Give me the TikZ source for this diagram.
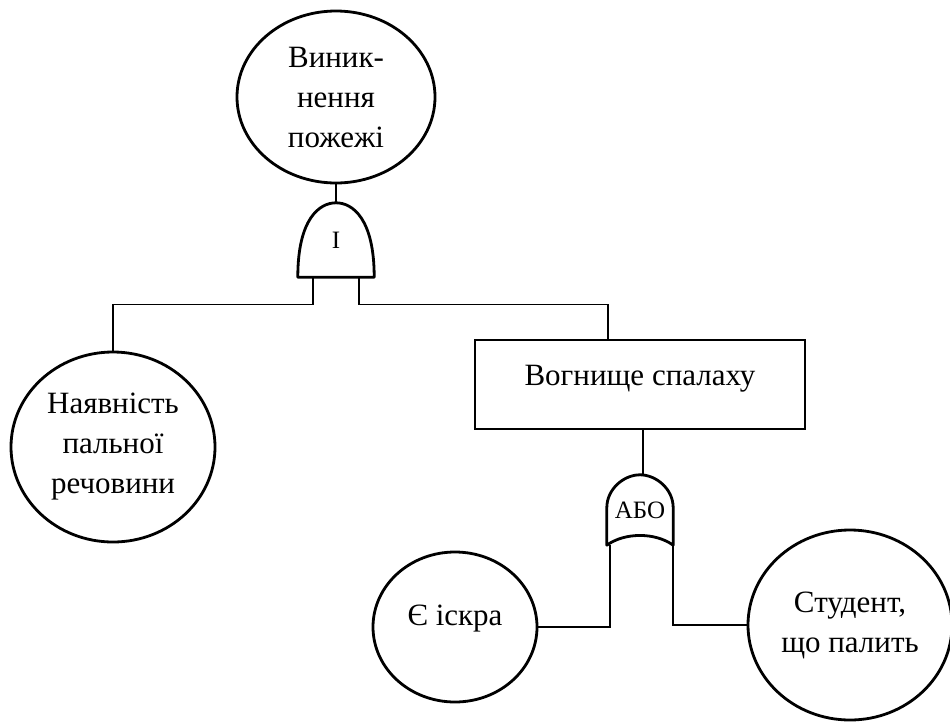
\documentclass[tikz,border=0pt]{standalone}
\usepackage{fontspec}
\setmainfont{LiberationSerif}[Extension=.ttf,UprightFont=*-Regular,BoldFont=*-Bold]
\usetikzlibrary{shapes.geometric}
\begin{document}
\begin{tikzpicture}[x=1pt,y=-1pt,
  evt/.style={ellipse,draw,line width=2.8pt,inner sep=0pt,align=center,
    font=\fontsize{31}{40}\selectfont},
  boxnode/.style={rectangle,draw,line width=2.8pt,inner sep=0pt,align=center,
    font=\fontsize{31}{40}\selectfont},
  gatenode/.style={rectangle,inner sep=0pt,font=\fontsize{25}{28}\selectfont},
  gateline/.style={line width=2.8pt,line join=round},
  conn/.style={line width=1.4pt}]
\useasboundingbox (0,0) rectangle (950,723);
% nodes
\node[evt,minimum width=198pt,minimum height=172pt] (top) at (336,97) {Виник-\\нення\\пожежі};
\node[gatenode,minimum width=76pt,minimum height=74pt] (and) at (336,240) {\raisebox{-7pt}{I}};
\node[evt,minimum width=204pt,minimum height=190pt] (fuel) at (113,447) {Наявність\\пальної\\речовини};
\node[boxnode,minimum width=330pt,minimum height=89pt] (fire) at (640,384.5) {\raisebox{18pt}{Вогнище спалаху}};
\node[gatenode,minimum width=66pt,minimum height=70pt] (or) at (640,510) {\raisebox{-6pt}{АБО}};
\node[evt,minimum width=164pt,minimum height=150pt] (spark) at (455,627) {\raisebox{23pt}{Є іскра}};
\node[evt,minimum width=204pt,minimum height=190pt] (smoker) at (850,625) {Студент,\\що палить};
% AND gate outline
\draw[gateline] (and.south west) -- ([yshift=-37pt]and.west)
  .. controls ([yshift=-16.6pt]and.north west) and ([xshift=-17pt]and.north) .. (and.north)
  .. controls ([xshift=17pt]and.north) and ([yshift=-16.6pt]and.north east) .. ([yshift=-37pt]and.east)
  -- (and.south east) -- cycle;
% OR gate outline
\draw[gateline] (or.south west) -- ([yshift=-33pt]or.north west)
  .. controls ([yshift=-14pt]or.north west) and ([xshift=-16pt]or.north) .. (or.north)
  .. controls ([xshift=16pt]or.north) and ([yshift=-14pt]or.north east) .. ([yshift=-33pt]or.north east)
  -- (or.south east)
  .. controls ([xshift=-18pt,yshift=13pt]or.south east) and ([xshift=18pt,yshift=13pt]or.south west) .. (or.south west) -- cycle;
% connectors
\draw[conn] (top.south) -- (and.north);
\draw[conn] ([xshift=-23pt]and.south) -- ++(0,27) -| (fuel.north);
\draw[conn] ([xshift=23pt]and.south) -- ++(0,27) -| ([xshift=-32pt]fire.north);
\draw[conn] ([xshift=3pt]fire.south) -- ([xshift=3pt]or.north);
\draw[conn] ([xshift=-30pt]or.south) |- (spark.east);
\draw[conn] ([xshift=33pt]or.south) |- (smoker.west);
\end{tikzpicture}
\end{document}
